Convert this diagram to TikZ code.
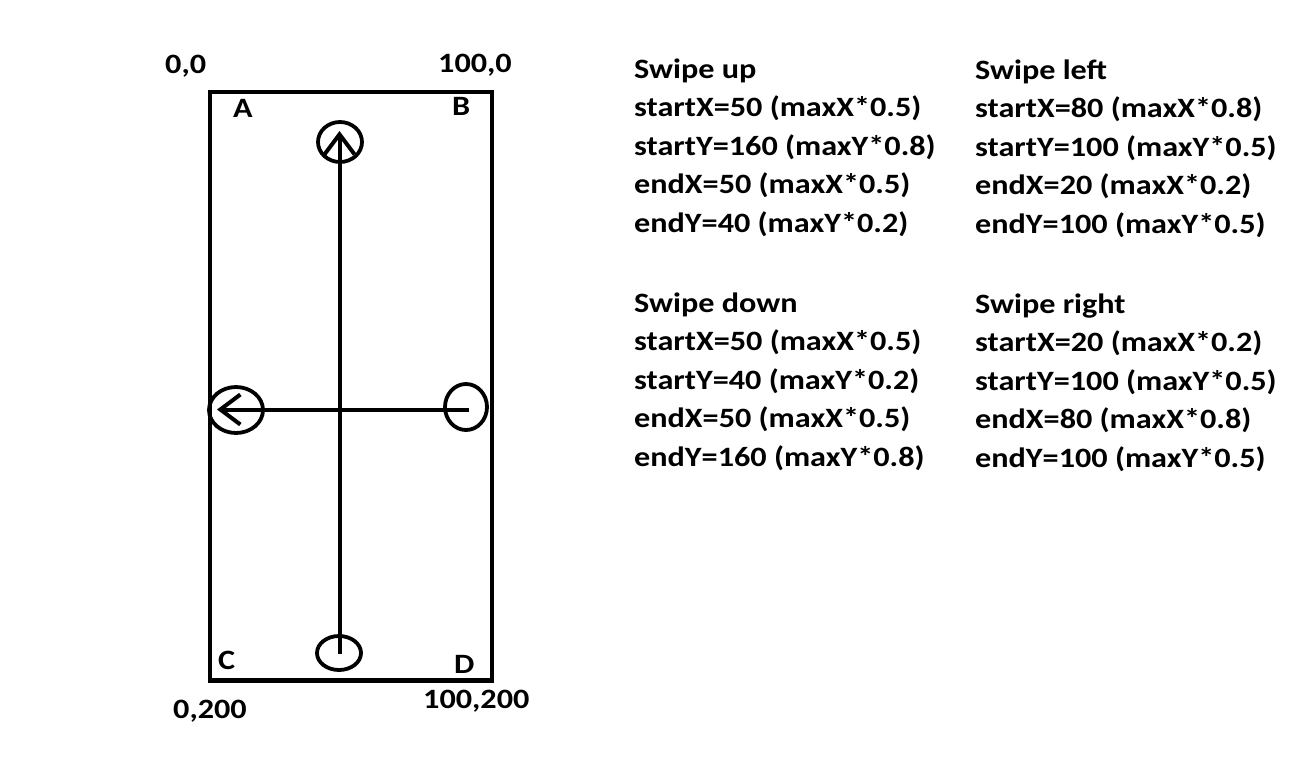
\documentclass[tikz,border=0pt]{standalone}
\usepackage{fontspec}
\setmainfont{Carlito}[FakeStretch=1.15]
\usetikzlibrary{arrows.meta,shapes.geometric}
\begin{document}
\begin{tikzpicture}[x=1pt,y=-1pt,
  txt/.style={inner sep=0pt,anchor=base west,font=\fontsize{28}{32}\selectfont\bfseries},
  ring/.style={draw,ellipse,line width=3.8pt,inner sep=0pt},
  stroke/.style={line width=4pt},
  barb/.style={-{Straight Barb[length=20pt,width=30pt]}}]
\useasboundingbox (0,0) rectangle (1307,777);
\fill[white] (0,0) rectangle (1307,777);
% screen rectangle
\draw[line width=4.5pt] (210,92) rectangle (492,680.5);
% circles
\node[ring,minimum width=44pt,minimum height=40pt] (cTop) at (340,142) {};
\node[ring,minimum width=44pt,minimum height=34pt] (cBot) at (339,653) {};
\node[ring,minimum width=54pt,minimum height=46pt] (cLeft) at (236,410) {};
\node[ring,minimum width=42pt,minimum height=46pt] (cRight) at (466,407) {};
\coordinate (tipUp) at (339.5,131);
\coordinate (tipLeft) at (217,409.5);
\coordinate (endDown) at (339.5,654);
\coordinate (endRight) at (469,409.5);
% swipes
\draw[stroke,barb] (endDown) -- (tipUp);
\draw[stroke,barb] (endRight) -- (tipLeft);
% corner labels
\node[txt] (l00) at (165,73) {0,0};
\node[txt] (l1000) at (438,72) {100,0};
\node[txt] (lA) at (233,117) {A};
\node[txt] (lB) at (452,115) {B};
\node[txt] (lC) at (218,669) {C};
\node[txt] (lD) at (454,673) {D};
\node[txt] (l0200) at (173,718) {0,200};
\node[txt] (l100200) at (423,708) {100,200};
% Swipe up
\node[txt] (u0) at (634,78) {Swipe up};
\node[txt] (u1) at (634,116.5) {startX=50 (maxX*0.5)};
\node[txt] (u2) at (634,155) {startY=160 (maxY*0.8)};
\node[txt] (u3) at (634,193.5) {endX=50 (maxX*0.5)};
\node[txt] (u4) at (634,232) {endY=40 (maxY*0.2)};
% Swipe down
\node[txt] (d0) at (634,312) {Swipe down};
\node[txt] (d1) at (634,350.5) {startX=50 (maxX*0.5)};
\node[txt] (d2) at (634,389) {startY=40 (maxY*0.2)};
\node[txt] (d3) at (634,427.5) {endX=50 (maxX*0.5)};
\node[txt] (d4) at (634,466) {endY=160 (maxY*0.8)};
% Swipe left
\node[txt] (s0) at (975,79) {Swipe left};
\node[txt] (s1) at (975,117.5) {startX=80 (maxX*0.8)};
\node[txt] (s2) at (975,156) {startY=100 (maxY*0.5)};
\node[txt] (s3) at (975,194.5) {endX=20 (maxX*0.2)};
\node[txt] (s4) at (975,233) {endY=100 (maxY*0.5)};
% Swipe right
\node[txt] (r0) at (975,313) {Swipe right};
\node[txt] (r1) at (975,351.5) {startX=20 (maxX*0.2)};
\node[txt] (r2) at (975,390) {startY=100 (maxY*0.5)};
\node[txt] (r3) at (975,428.5) {endX=80 (maxX*0.8)};
\node[txt] (r4) at (975,467) {endY=100 (maxY*0.5)};
\end{tikzpicture}
\end{document}
